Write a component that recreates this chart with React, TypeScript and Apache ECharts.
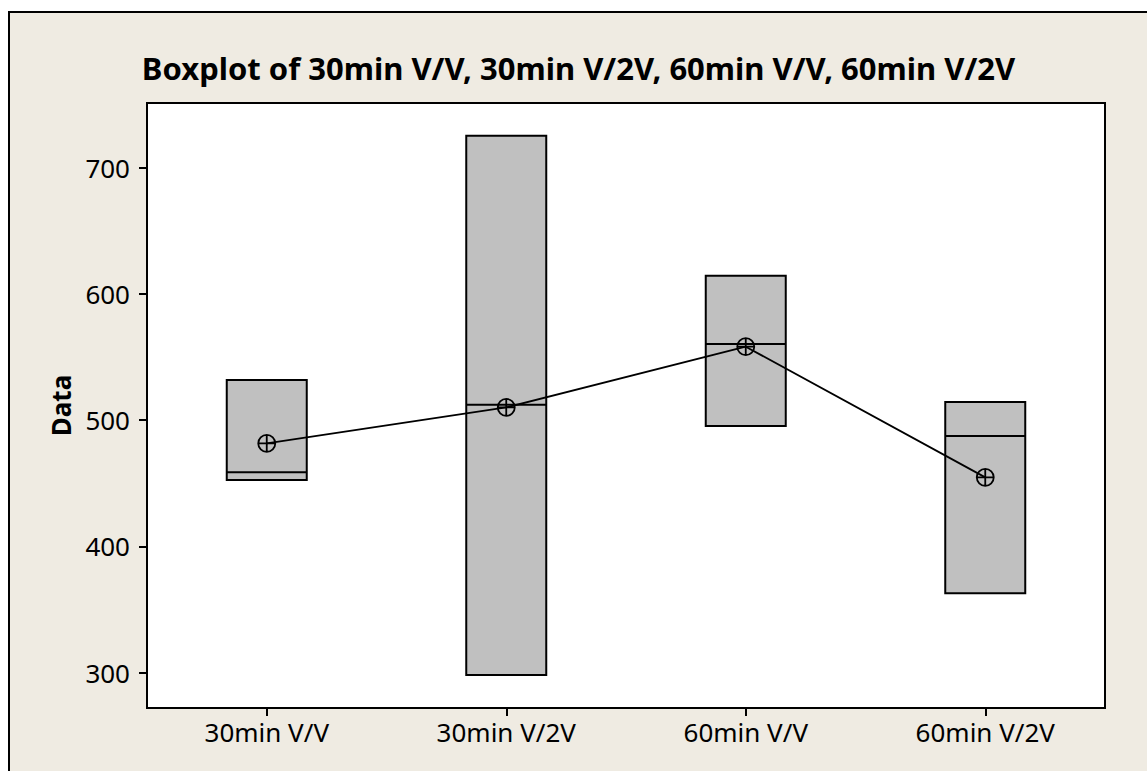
import React, { useEffect, useRef } from "react";
import * as echarts from "echarts";

const categories = ["30min V/V", "30min V/2V", "60min V/V", "60min V/2V"];
// [min, Q1, median, Q3, max]
const boxMin = [452.5, 298, 495.2, 362.7];
const boxQ1 = [452.5, 298, 495.2, 362.7];
const boxMedian = [458.6, 512, 560.2, 487.3];
const boxQ3 = [531.7, 725.2, 614.3, 514.3];
const boxMax = [531.7, 725.2, 614.3, 514.3];
const means = [481.5, 510, 558.1, 454.6];
const yTicks = [300, 400, 500, 600, 700];
const yMin = 271.9;
const yMax = 751.1;

const FONT = "'Noto Sans', 'DejaVu Sans', sans-serif";
const MEAN_SYMBOL =
  "path://M0,-8A8,8 0 1,1 0,8A8,8 0 1,1 0,-8Z M-8,0L8,0 M0,-8L0,8";

export default function App() {
  const ref = useRef<HTMLDivElement>(null);
  useEffect(() => {
    document.body.style.overflow = "hidden";
    const chart = echarts.init(ref.current!, null, { renderer: "svg" });
    const boxData = categories.map((_, i) => [
      boxMin[i],
      boxQ1[i],
      boxMedian[i],
      boxQ3[i],
      boxMax[i],
    ]);
    chart.setOption({
      animation: false,
      backgroundColor: "transparent",
      title: {
        text: "Boxplot of 30min V/V, 30min V/2V, 60min V/V, 60min V/2V",
        left: "center",
        top: 34,
        textStyle: {
          fontFamily: FONT,
          fontSize: 31,
          fontWeight: "bold",
          color: "#000",
        },
      },
      grid: {
        left: 137,
        top: 90,
        right: 42,
        bottom: 63,
        show: true,
        backgroundColor: "#ffffff",
        borderColor: "#000",
        borderWidth: 2,
      },
      xAxis: {
        type: "category",
        data: categories,
        boundaryGap: true,
        axisLine: { show: true, lineStyle: { color: "#000", width: 2 } },
        axisTick: {
          show: true,
          alignWithLabel: true,
          length: 8,
          lineStyle: { color: "#000", width: 2 },
        },
        axisLabel: {
          fontFamily: FONT,
          fontSize: 26,
          color: "#000",
          margin: 11,
        },
        splitLine: { show: false },
      },
      yAxis: {
        type: "value",
        min: yMin,
        max: yMax,
        name: "Data",
        nameLocation: "middle",
        nameGap: 72,
        nameTextStyle: {
          fontFamily: FONT,
          fontSize: 26,
          fontWeight: "bold",
          color: "#000",
        },
        axisLine: { show: true, lineStyle: { color: "#000", width: 2 } },
        axisTick: {
          show: true,
          length: 8,
          customValues: yTicks,
          lineStyle: { color: "#000", width: 2 },
        },
        axisLabel: {
          customValues: yTicks,
          fontFamily: FONT,
          fontSize: 26,
          color: "#000",
          margin: 17,
        },
        splitLine: { show: false },
      },
      series: [
        {
          type: "boxplot",
          data: boxData,
          boxWidth: [80, 80],
          itemStyle: { color: "#C0C0C0", borderColor: "#000", borderWidth: 2 },
          silent: true,
        },
        {
          type: "line",
          data: means,
          symbol: MEAN_SYMBOL,
          symbolSize: 17,
          showSymbol: true,
          lineStyle: { color: "#000", width: 1.8 },
          itemStyle: {
            color: "rgba(0,0,0,0)",
            borderColor: "#000",
            borderWidth: 1.8,
          },
          z: 5,
          silent: true,
        },
      ],
    });
    return () => chart.dispose();
  }, []);
  return (
    <div
      style={{
        position: "absolute",
        left: 8,
        top: 11,
        borderTop: "2px solid #000",
        borderLeft: "2px solid #000",
        background: "#EFEBE2",
      }}
    >
      <div ref={ref} style={{ width: 1137, height: 758 }} />
    </div>
  );
}
